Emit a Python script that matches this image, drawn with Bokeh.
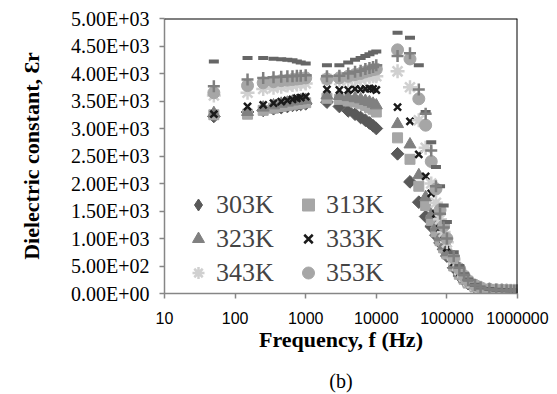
from bokeh.plotting import figure
from bokeh.models import Range1d, FixedTicker, LogAxis, Legend, LegendItem, Span
from bokeh.embed import file_html
from bokeh.resources import INLINE

freq = [50, 150, 250, 350, 450, 550, 650, 750, 850, 1000,
        2000, 3000, 4000, 5000, 6000, 7000, 8000, 9000, 10000,
        20000, 30000, 40000, 50000, 60000, 70000, 80000, 90000, 100000,
        125000, 150000, 175000, 200000, 250000, 300000, 400000, 500000,
        600000, 700000, 800000, 900000, 1000000]

k303 = [3220, 3300, 3330, 3360, 3380, 3400, 3420, 3430, 3440, 3450,
        3480, 3400, 3320, 3260, 3200, 3150, 3100, 3050, 3000,
        2540, 2030, 1660, 1400, 1220, 1060, 920, 800, 680,
        470, 330, 240, 180, 110, 80, 60, 50, 45, 40, 38, 35, 33]
k313 = [3250, 3260, 3330, 3370, 3400, 3420, 3440, 3450, 3460, 3470,
        3550, 3530, 3500, 3480, 3450, 3420, 3380, 3350, 3300,
        2830, 2440, 1950, 1600, 1330, 1120, 960, 830, 720,
        500, 350, 260, 190, 120, 90, 65, 55, 50, 45, 42, 40, 38]
k323 = [3280, 3300, 3380, 3420, 3450, 3470, 3490, 3500, 3510, 3520,
        3600, 3590, 3570, 3550, 3530, 3500, 3480, 3450, 3420,
        3080, 2710, 2150, 1750, 1430, 1200, 1020, 870, 750,
        520, 370, 270, 200, 130, 95, 70, 60, 55, 50, 46, 44, 42]
k333 = [3260, 3400, 3430, 3460, 3490, 3510, 3530, 3550, 3560, 3580,
        3710, 3700, 3700, 3720, 3710, 3720, 3730, 3720, 3700,
        3390, 3130, 2530, 2130, 1820, 1450, 1180, 980, 830,
        570, 400, 290, 210, 140, 100, 72, 62, 56, 52, 48, 46, 44]
k343 = [3600, 3650, 3720, 3740, 3760, 3780, 3790, 3800, 3810, 3820,
        3900, 3880, 3880, 3900, 3900, 3920, 3940, 3950, 3950,
        4040, 3750, 3150, 2650, 2000, 1650, 1350, 1120, 930,
        620, 430, 310, 225, 145, 105, 75, 64, 58, 54, 50, 48, 46]
k353 = [3650, 3780, 3830, 3850, 3870, 3880, 3890, 3900, 3910, 3920,
        3900, 3920, 3950, 3980, 4000, 4030, 4050, 4070, 4080,
        4430, 4265, 3540, 3060, 2400, 1900, 1520, 1230, 1000,
        650, 450, 320, 230, 150, 105, 76, 65, 60, 55, 52, 50, 48]
k363 = [4220, 4280, 4280, 4270, 4260, 4250, 4240, 4220, 4200, 4180,
        4150, 4150, 4200, 4250, 4280, 4320, 4350, 4380, 4400,
        4740, 4650, 4150, 3300, 2750, 2300, 1950, 1600, 1300,
        750, 500, 350, 255, 160, 110, 80, 68, 62, 57, 54, 52, 50]
k373 = [3770, 3890, 3920, 3930, 3940, 3950, 3950, 3960, 3960, 3970,
        3950, 3960, 4000, 4030, 4050, 4080, 4100, 4120, 4150,
        4320, 4370, 3710, 3270, 2600, 1950, 1450, 1200, 1000,
        680, 470, 340, 245, 155, 108, 78, 66, 60, 56, 53, 51, 49]

x_ticks = [10, 100, 1000, 10000, 100000, 1000000]
x_labels = ["10", "100", "1000", "10000", "100000", "1000000"]
y_ticks = [0, 500, 1000, 1500, 2000, 2500, 3000, 3500, 4000, 4500, 5000]
y_labels = ["0.00E+00", "5.00E+02", "1.00E+03", "1.50E+03", "2.00E+03",
            "2.50E+03", "3.00E+03", "3.50E+03", "4.00E+03", "4.50E+03", "5.00E+03"]

FONT = "Liberation Serif"
AXC = "#868686"

p = figure(width=557, height=394, x_axis_type="log",
           x_range=Range1d(10, 1e6), y_range=Range1d(0, 5000),
           output_backend="svg", toolbar_location=None,
           min_border_left=164, min_border_right=40,
           min_border_top=18, min_border_bottom=100)
p.grid.visible = False
p.outline_line_color = None

p.xaxis.ticker = FixedTicker(ticks=x_ticks)
p.xaxis.major_label_overrides = {t: l for t, l in zip(x_ticks, x_labels)}
p.yaxis.ticker = FixedTicker(ticks=y_ticks)
p.yaxis.major_label_overrides = {t: l for t, l in zip(y_ticks, y_labels)}
for ax in (p.xaxis, p.yaxis):
    ax.axis_line_color = AXC
    ax.axis_line_width = 1.5
    ax.major_tick_line_color = AXC
    ax.major_tick_line_width = 1.5
    ax.major_tick_out = 5
    ax.major_tick_in = 0
    ax.minor_tick_line_color = None
    ax.major_label_text_color = "black"
    ax.axis_label_text_font = FONT
    ax.axis_label_text_font_style = "bold"
    ax.axis_label_text_font_size = "22px"
    ax.axis_label_text_color = "black"
p.xaxis.major_label_text_font = "Liberation Sans"
p.yaxis.major_label_text_font = FONT
p.xaxis.major_label_text_font_size = "16px"
p.yaxis.major_label_text_font_size = "20px"
p.xaxis.major_label_standoff = 13
p.yaxis.major_label_standoff = 10
p.xaxis.axis_label = "Frequency, f (Hz)"
p.yaxis.axis_label = "Dielectric constant, Ɛr"
p.xaxis.axis_label_standoff = 0
p.yaxis.axis_label_standoff = 24

bax = LogAxis(ticker=FixedTicker(ticks=[]), axis_line_color=None,
              major_tick_line_color=None, minor_tick_line_color=None,
              axis_label="(b)", axis_label_text_font=FONT,
              axis_label_text_font_size="20px", axis_label_text_font_style="normal",
              axis_label_text_color="black", axis_label_standoff=15)
p.add_layout(bax, "below")

p.add_layout(Span(location=5000, dimension="width", line_color="black", line_width=2))
p.add_layout(Span(location=1e6, dimension="height", line_color="black", line_width=2))

C303, C313, C323, C333, C343, C353 = "#595959", "#a6a6a6", "#808080", "#1a1a1a", "#d0d0d0", "#a6a6a6"

r1 = p.scatter(freq, k303, marker="square", angle=0.785, size=9, color=C303)
r2 = p.scatter(freq, k313, marker="square", size=10, color=C313)
r3 = p.scatter(freq, k323, marker="triangle", size=12, color=C323)
r4 = p.scatter(freq, k333, marker="x", size=10, line_width=2.5, line_color=C333)
r5 = p.scatter(freq, k343, marker="asterisk", size=14, line_width=2.5, line_color=C343)
r6 = p.scatter(freq, k353, marker="circle", size=12, color=C353)
r7 = p.scatter(freq, k363, marker="dash", size=10, line_width=4, line_color="#666666")
r8 = p.scatter(freq, k373, marker="cross", size=12, line_width=2.5, line_color="#7f7f7f")

# legend-only glyph for the diamond (drawn off-range)
g1 = p.scatter([1], [-1000], marker="diamond", size=15, color=C303)

legend = Legend(items=[LegendItem(label="303K", renderers=[g1]),
                       LegendItem(label="313K", renderers=[r2]),
                       LegendItem(label="323K", renderers=[r3]),
                       LegendItem(label="333K", renderers=[r4]),
                       LegendItem(label="343K", renderers=[r5]),
                       LegendItem(label="353K", renderers=[r6])],
                orientation="horizontal", ncols=2,
                location=(19, 5), label_text_font=FONT, label_text_font_size="26px",
                glyph_width=30, glyph_height=31, label_height=31, label_width=74,
                label_standoff=3, spacing=3, padding=2, margin=0,
                background_fill_alpha=0, border_line_color=None)
p.add_layout(legend, "center")

open("out.html", "w").write(file_html(p, INLINE))
